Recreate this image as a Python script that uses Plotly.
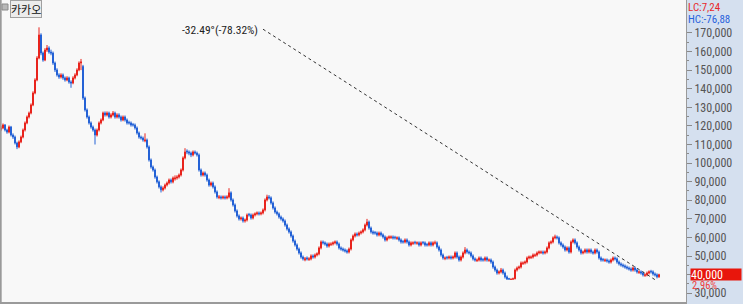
import plotly.graph_objects as go

# Prices in thousands of KRW (one candle per ~2 px of the reference)
OPEN = [
118.0, 118.9, 120.5, 117.8, 116.7, 119.4, 115.1, 114.0, 110.8, 108.7,
111.4, 114.0, 117.8, 121.6, 124.8, 126.9, 131.3, 137.7, 144.7, 156.5,
168.9, 159.2, 155.4, 160.8, 161.9, 159.7, 159.2, 153.8, 150.1, 147.4,
146.3, 147.4, 145.8, 144.7, 145.8, 143.6, 143.1, 145.8, 147.4, 150.1,
153.8, 152.0, 135.0, 128.6, 124.8, 121.6, 119.4, 117.8, 115.1, 117.8,
121.6, 123.2, 126.9, 125.9, 126.9, 124.8, 125.9, 126.9, 124.8, 125.9,
124.8, 123.2, 124.8, 123.2, 121.9, 121.6, 120.8, 120.5, 118.9, 116.2,
114.0, 113.5, 112.0, 112.4, 108.7, 101.7, 97.9, 96.3, 92.5, 89.9,
87.2, 85.6, 86.6, 88.2, 89.3, 90.9, 89.9, 91.5, 92.0, 92.5,
93.6, 96.3, 102.8, 106.5, 106.0, 105.4, 104.4, 106.0, 105.4, 104.4,
96.3, 93.6, 94.7, 93.6, 90.9, 88.2, 89.3, 87.2, 84.5, 81.5,
81.8, 81.3, 81.8, 81.3, 81.8, 84.0, 80.2, 77.5, 74.3, 71.6,
70.0, 70.5, 68.9, 69.4, 72.4, 72.1, 70.5, 72.1, 72.7, 73.2,
72.7, 73.2, 74.8, 80.2, 81.8, 81.3, 78.6, 75.9, 73.7, 72.7,
71.0, 70.0, 68.9, 66.7, 64.6, 63.0, 60.8, 58.1, 56.0, 53.8,
51.7, 49.5, 48.0, 49.0, 48.2, 48.5, 50.1, 49.5, 50.6, 51.2,
54.4, 57.6, 57.1, 56.5, 55.4, 56.2, 56.5, 57.1, 57.6, 56.5,
54.4, 53.8, 53.3, 52.8, 52.2, 53.8, 58.7, 60.8, 61.9, 61.4,
62.4, 63.0, 64.1, 66.7, 68.3, 65.1, 63.0, 62.7, 62.4, 61.4,
62.4, 61.4, 60.3, 58.7, 59.8, 60.0, 60.3, 60.1, 59.5, 59.8,
58.7, 57.9, 57.6, 58.7, 57.6, 56.0, 56.8, 57.4, 56.9, 57.1,
56.0, 57.3, 57.1, 56.3, 56.0, 57.1, 56.0, 57.0, 57.1, 54.9,
53.3, 50.6, 48.7, 49.3, 49.0, 49.5, 49.0, 49.5, 51.7, 49.5,
47.9, 49.5, 51.7, 53.3, 52.2, 51.7, 50.1, 48.5, 47.6, 47.9,
49.0, 48.2, 47.9, 49.0, 47.7, 47.9, 46.8, 44.1, 42.5, 40.9,
41.5, 42.5, 40.9, 38.8, 37.9, 37.4, 37.5, 37.8, 42.5, 43.6,
44.1, 46.0, 46.3, 46.8, 49.0, 49.2, 49.5, 50.3, 50.6, 51.7,
51.9, 52.2, 51.7, 52.2, 54.4, 57.1, 57.6, 59.8, 60.3, 59.8,
57.1, 56.0, 54.9, 53.3, 54.4, 52.2, 57.6, 58.7, 57.1, 54.9,
53.3, 51.7, 52.2, 53.3, 52.2, 53.3, 52.2, 51.7, 53.3, 52.2,
49.0, 48.2, 47.6, 47.9, 47.4, 46.8, 47.9, 49.0, 48.5, 46.8,
45.8, 45.2, 44.7, 44.1, 43.6, 43.1, 42.5, 43.6, 42.5, 41.2,
41.5, 40.9, 39.6, 39.9, 40.9, 41.8, 41.5, 40.4, 39.9, 38.85,
]

HIGH = [
120.0, 121.3, 121.0, 118.5, 120.2, 120.0, 116.0, 114.8, 111.5, 112.2,
114.8, 118.6, 122.4, 125.6, 127.7, 132.1, 138.6, 145.6, 157.5, 173.0,
169.8, 160.0, 161.8, 163.5, 162.8, 161.0, 160.0, 154.6, 151.0, 148.3,
148.3, 148.2, 146.6, 146.7, 146.5, 144.5, 146.7, 148.3, 151.0, 154.7,
156.0, 152.8, 135.8, 129.4, 125.6, 122.4, 120.2, 118.6, 118.6, 122.4,
124.0, 127.7, 127.8, 127.8, 127.7, 126.8, 128.0, 127.7, 126.8, 126.8,
125.6, 125.6, 125.6, 124.0, 122.8, 122.4, 121.6, 121.3, 119.7, 117.0,
114.8, 114.3, 116.0, 113.2, 109.5, 102.5, 98.7, 97.1, 93.3, 90.7,
88.0, 87.5, 89.0, 90.1, 91.7, 91.7, 92.8, 93.4, 93.5, 94.4,
97.1, 103.6, 108.0, 107.4, 106.8, 106.2, 106.8, 106.8, 106.2, 105.2,
97.1, 95.5, 95.5, 94.4, 91.7, 90.1, 90.1, 88.0, 85.3, 82.8,
82.6, 82.6, 82.6, 82.7, 86.5, 84.8, 81.0, 78.3, 75.1, 72.4,
71.3, 71.3, 70.2, 72.9, 73.2, 72.9, 72.9, 73.5, 74.0, 74.0,
74.0, 75.6, 81.0, 83.0, 82.8, 82.1, 79.4, 76.7, 74.5, 73.5,
71.8, 70.8, 69.7, 67.5, 65.4, 63.8, 61.6, 58.9, 56.8, 54.6,
52.5, 50.3, 49.5, 49.8, 49.4, 50.9, 50.9, 51.4, 52.0, 55.2,
58.4, 58.4, 57.9, 57.3, 57.3, 57.4, 57.9, 58.4, 58.4, 57.3,
55.2, 54.6, 54.1, 53.6, 54.6, 59.5, 61.6, 62.7, 62.7, 63.2,
63.8, 64.9, 67.5, 70.0, 69.1, 65.9, 63.8, 63.5, 63.2, 63.2,
63.2, 62.2, 61.1, 60.6, 61.1, 61.1, 61.1, 60.9, 60.6, 60.6,
59.5, 58.7, 59.5, 59.5, 58.4, 57.9, 57.9, 58.2, 57.9, 57.9,
57.9, 58.1, 57.9, 57.1, 57.9, 57.9, 57.9, 58.3, 57.9, 55.7,
54.1, 51.4, 49.8, 50.1, 50.3, 50.3, 50.3, 52.5, 52.5, 50.3,
50.3, 52.5, 54.8, 54.1, 53.0, 52.5, 50.9, 49.3, 48.7, 49.8,
49.8, 49.0, 49.8, 49.8, 48.7, 48.7, 47.6, 44.9, 43.3, 42.3,
43.6, 43.3, 41.7, 39.6, 38.3, 38.0, 38.4, 43.3, 44.4, 44.9,
47.1, 47.1, 47.6, 49.8, 50.3, 50.3, 51.4, 51.4, 52.5, 53.0,
53.0, 53.0, 53.0, 55.2, 57.9, 58.4, 60.6, 61.5, 61.1, 60.6,
57.9, 56.8, 55.7, 55.2, 55.2, 58.4, 59.5, 59.5, 57.9, 55.7,
54.1, 53.0, 54.1, 54.1, 54.1, 54.1, 53.0, 54.1, 54.1, 53.0,
49.8, 49.0, 48.7, 48.7, 48.2, 48.7, 49.8, 49.8, 49.3, 47.6,
46.6, 46.0, 45.5, 44.9, 44.4, 43.9, 44.4, 44.4, 43.3, 42.3,
42.3, 41.7, 40.7, 41.7, 42.3, 42.6, 42.3, 41.2, 40.7, 40.5,
]

LOW = [
117.2, 118.2, 117.0, 115.8, 116.0, 114.3, 113.0, 110.0, 107.5, 108.0,
110.7, 113.3, 117.0, 120.9, 124.0, 126.2, 130.6, 137.0, 144.0, 155.8,
158.0, 154.5, 154.8, 159.8, 158.8, 158.0, 152.8, 149.0, 146.5, 145.3,
145.5, 144.8, 143.8, 144.0, 142.7, 140.5, 142.4, 145.0, 146.7, 149.4,
150.0, 134.0, 127.7, 123.9, 120.7, 118.5, 116.9, 110.0, 114.3, 117.0,
120.8, 122.5, 125.0, 125.1, 123.9, 124.0, 125.1, 123.9, 124.0, 123.9,
122.3, 122.5, 122.3, 120.7, 120.7, 119.6, 119.6, 118.0, 115.3, 113.1,
112.6, 111.5, 111.2, 107.8, 100.8, 97.0, 95.4, 91.6, 89.0, 86.3,
84.2, 84.8, 85.8, 87.4, 88.5, 89.0, 89.1, 90.6, 91.1, 91.7,
92.8, 95.5, 102.0, 104.8, 104.2, 103.2, 103.6, 104.6, 103.5, 95.4,
92.7, 92.8, 92.7, 90.0, 87.3, 87.4, 86.3, 83.6, 80.9, 80.6,
80.4, 80.5, 80.4, 80.5, 81.0, 79.3, 76.6, 73.4, 70.7, 69.1,
69.1, 68.0, 68.0, 68.6, 71.2, 69.6, 69.7, 71.3, 71.9, 71.8,
71.9, 72.4, 74.0, 79.4, 80.4, 77.7, 75.0, 72.8, 71.8, 70.1,
69.1, 68.0, 65.8, 63.7, 62.1, 59.9, 57.2, 55.1, 52.9, 50.8,
48.6, 47.6, 47.2, 47.6, 47.4, 47.7, 48.6, 48.7, 49.8, 50.4,
53.6, 56.2, 55.6, 54.5, 54.6, 55.4, 55.7, 56.3, 55.6, 53.5,
52.9, 52.4, 51.9, 51.3, 51.4, 53.0, 57.9, 60.0, 60.5, 60.6,
61.6, 62.2, 63.3, 65.9, 64.2, 62.1, 61.5, 61.5, 60.5, 60.6,
60.5, 59.4, 57.8, 57.9, 59.0, 59.2, 58.9, 58.9, 58.7, 57.8,
56.7, 56.7, 56.8, 56.7, 55.1, 55.2, 56.0, 56.2, 56.1, 55.1,
55.2, 56.2, 55.1, 55.1, 55.2, 55.1, 55.2, 56.2, 54.0, 52.4,
49.7, 48.1, 47.8, 48.1, 48.2, 48.1, 48.2, 48.7, 48.6, 47.0,
47.1, 48.7, 50.9, 51.3, 50.8, 49.2, 47.6, 47.0, 46.8, 47.1,
47.0, 47.0, 47.1, 47.0, 46.9, 45.9, 43.2, 41.6, 40.0, 40.1,
40.7, 40.0, 37.9, 37.3, 37.4, 37.3, 37.4, 37.5, 41.7, 42.8,
43.3, 45.2, 45.5, 46.0, 48.2, 48.4, 48.7, 49.5, 49.8, 50.9,
51.1, 50.8, 50.9, 51.4, 53.6, 56.3, 56.8, 59.0, 58.9, 56.2,
55.1, 54.0, 52.4, 52.5, 51.3, 51.4, 56.8, 56.2, 54.0, 52.4,
50.8, 50.9, 51.4, 51.3, 51.4, 51.3, 50.8, 50.9, 51.3, 48.1,
47.0, 47.0, 46.8, 46.5, 45.9, 46.0, 47.1, 47.6, 45.9, 44.9,
44.3, 43.8, 43.2, 42.7, 42.2, 41.6, 41.7, 41.6, 40.6, 40.4,
40.0, 39.0, 38.8, 39.1, 40.1, 40.6, 39.5, 39.0, 38.0, 38.3,
]

CLOSE = [
118.9, 120.5, 117.8, 116.7, 119.4, 115.1, 114.0, 110.8, 108.7, 111.4,
114.0, 117.8, 121.6, 124.8, 126.9, 131.3, 137.7, 144.7, 156.5, 168.9,
159.2, 155.4, 160.8, 161.9, 159.7, 159.2, 153.8, 150.1, 147.4, 146.3,
147.4, 145.8, 144.7, 145.8, 143.6, 143.1, 145.8, 147.4, 150.1, 153.8,
154.4, 135.0, 128.6, 124.8, 121.6, 119.4, 117.8, 115.1, 117.8, 121.6,
123.2, 126.9, 125.9, 126.9, 124.8, 125.9, 126.9, 124.8, 125.9, 124.8,
123.2, 124.8, 123.2, 121.6, 121.6, 120.5, 120.5, 118.9, 116.2, 114.0,
113.5, 112.4, 112.4, 108.7, 101.7, 97.9, 96.3, 92.5, 89.9, 87.2,
85.6, 86.6, 88.2, 89.3, 90.9, 89.9, 92.0, 92.0, 92.5, 93.6,
96.3, 102.8, 106.0, 106.0, 105.4, 104.4, 106.0, 105.4, 104.4, 96.3,
93.6, 94.7, 93.6, 90.9, 88.2, 89.3, 87.2, 84.5, 81.8, 81.8,
81.3, 81.8, 81.3, 81.8, 84.0, 80.2, 77.5, 74.3, 71.6, 70.0,
70.5, 68.9, 69.4, 72.1, 72.1, 70.5, 72.1, 72.7, 73.2, 72.7,
73.2, 74.8, 80.2, 81.8, 81.3, 78.6, 75.9, 73.7, 72.7, 71.0,
70.0, 68.9, 66.7, 64.6, 63.0, 60.8, 58.1, 56.0, 53.8, 51.7,
49.5, 48.5, 48.5, 48.5, 48.5, 50.1, 49.5, 50.6, 51.2, 54.4,
57.6, 57.1, 56.5, 55.4, 56.5, 56.5, 57.1, 57.6, 56.5, 54.4,
53.8, 53.3, 52.8, 52.2, 53.8, 58.7, 60.8, 61.9, 61.4, 62.4,
63.0, 64.1, 66.7, 68.3, 65.1, 63.0, 62.4, 62.4, 61.4, 62.4,
61.4, 60.3, 58.7, 59.8, 60.3, 60.3, 59.8, 59.8, 59.8, 58.7,
57.6, 57.6, 58.7, 57.6, 56.0, 57.1, 57.1, 57.1, 57.1, 56.0,
57.1, 57.1, 56.0, 56.0, 57.1, 56.0, 57.1, 57.1, 54.9, 53.3,
50.6, 49.0, 49.0, 49.0, 49.5, 49.0, 49.5, 51.7, 49.5, 47.9,
49.5, 51.7, 53.3, 52.2, 51.7, 50.1, 48.5, 47.9, 47.9, 49.0,
47.9, 47.9, 49.0, 47.9, 47.9, 46.8, 44.1, 42.5, 40.9, 41.5,
42.5, 40.9, 38.8, 37.6, 37.6, 37.5, 37.8, 42.5, 43.6, 44.1,
46.3, 46.3, 46.8, 49.0, 49.5, 49.5, 50.6, 50.6, 51.7, 52.2,
52.2, 51.7, 52.2, 54.4, 57.1, 57.6, 59.8, 60.3, 59.8, 57.1,
56.0, 54.9, 53.3, 54.4, 52.2, 57.6, 58.7, 57.1, 54.9, 53.3,
51.7, 52.2, 53.3, 52.2, 53.3, 52.2, 51.7, 53.3, 52.2, 49.0,
47.9, 47.9, 47.9, 47.4, 46.8, 47.9, 49.0, 48.5, 46.8, 45.8,
45.2, 44.7, 44.1, 43.6, 43.1, 42.5, 43.6, 42.5, 41.5, 41.5,
40.9, 39.9, 39.9, 40.9, 41.5, 41.5, 40.4, 39.9, 38.85, 40.0,
]

TREND_IDX = [131, 327]
TREND_PRICE = [172000, 37300]
TREND_LABEL = "-32.49°(-78.32%)"
NAME = "카카오"
Y_TICKS = list(range(30000, 180000, 10000))

n = min(len(OPEN), len(HIGH), len(LOW), len(CLOSE))
idx = list(range(n))
o = [v * 1000 for v in OPEN[:n]]
h = [v * 1000 for v in HIGH[:n]]
l = [v * 1000 for v in LOW[:n]]
c = [v * 1000 for v in CLOSE[:n]]

last = c[-1]
prev = c[-2]
pct = (last / prev - 1) * 100
lc = (last / min(l) - 1) * 100
hc = (last / max(h) - 1) * 100

# the current-price box covers the tick label at the same level
tick_text = ["" if abs(v - last) < 5000 else f"{v:,}" for v in Y_TICKS]

NUMFONT = "Liberation Sans Narrow, Roboto Condensed, Liberation Sans, sans-serif"
RED = "#e8231c"
BLUE = "#2462d6"

fig = go.Figure()
fig.add_trace(go.Candlestick(
    x=idx, open=o, high=h, low=l, close=c,
    increasing=dict(line=dict(color=RED, width=1), fillcolor=RED),
    decreasing=dict(line=dict(color=BLUE, width=1), fillcolor=BLUE),
    whiskerwidth=0, showlegend=False, hoverinfo="skip",
))

W, H = 743, 304
ML, MR, MT, MB = 0, 57, 0, 2
pw = W - ML - MR
ph = H - MT - MB

fig.update_layout(
    width=W, height=H,
    margin=dict(l=ML, r=MR, t=MT, b=MB),
    paper_bgcolor="#f8f8f8", plot_bgcolor="#f8f8f8",
    showlegend=False,
    xaxis=dict(range=[-0.5, 342.5], rangeslider=dict(visible=False),
               showgrid=False, zeroline=False, showticklabels=False,
               ticks="", showline=True, linecolor="#9a9a9a", linewidth=2),
    yaxis=dict(side="right", range=[25300, 187700], tickmode="array",
               tickvals=Y_TICKS, ticktext=tick_text,
               showgrid=False, zeroline=False,
               ticks="outside", ticklen=5, tickcolor="#8a8a8a",
               showline=True, linecolor="#9a9a9a", linewidth=1,
               tickfont=dict(family=NUMFONT, size=12, color="#555555"),
               minor=dict(tickvals=[v + 5000 for v in Y_TICKS[:-1]] + [Y_TICKS[0] - 5000],
                          ticks="outside", ticklen=2, tickcolor="#8a8a8a")),
    shapes=[
        dict(type="rect", xref="paper", yref="paper", x0=1, x1=1 + MR / pw,
             y0=-MB / ph, y1=1, fillcolor="#d5e0ef", line=dict(width=0), layer="below"),
        dict(type="line", xref="paper", yref="paper", x0=0.001, x1=0.001, y0=0, y1=1,
             line=dict(color="#9a9a9a", width=2)),
        dict(type="line", xref="x", yref="y", x0=TREND_IDX[0], x1=TREND_IDX[1],
             y0=TREND_PRICE[0], y1=TREND_PRICE[1],
             line=dict(color="#333333", width=1, dash="3px,3px")),
        dict(type="rect", xref="paper", yref="paper", x0=2 / pw, x1=8 / pw,
             y0=1 - 10 / ph, y1=1 - 4 / ph, fillcolor="#b8b8b8",
             line=dict(color="#8a8a8a", width=1)),
    ],
)

ann = [
    dict(text=TREND_LABEL, xref="paper", yref="paper", x=260 / pw, y=1 - 30 / ph,
         xanchor="right", yanchor="middle", showarrow=False,
         font=dict(family=NUMFONT, size=11.5, color="#222222")),
    dict(text=NAME, xref="paper", yref="paper", x=10 / pw, y=1, xanchor="left",
         yanchor="top", showarrow=False, bgcolor="#ececec", bordercolor="#a0a0a0",
         borderwidth=1, borderpad=0,
         font=dict(family="Noto Sans CJK KR", size=11, color="#111111")),
    dict(text="LC:" + f"{lc:.2f}".replace(".", ","), xref="paper", yref="paper",
         x=687 / pw, y=1 - 1 / ph, xanchor="left", yanchor="top", showarrow=False,
         borderpad=0, height=11, font=dict(family=NUMFONT, size=11, color="#e8282a")),
    dict(text="HC:" + f"{hc:.2f}".replace(".", ","), xref="paper", yref="paper",
         x=687 / pw, y=1 - 12.5 / ph, xanchor="left", yanchor="top", showarrow=False,
         borderpad=0, height=11, font=dict(family=NUMFONT, size=11, color="#2a62dc")),
    dict(text=f"{last:,.0f}", xref="paper", yref="y", x=690 / pw, y=last,
         xanchor="left", yanchor="middle", showarrow=False, bgcolor="#e8160c",
         borderpad=0, align="left", width=50, height=11,
         font=dict(family=NUMFONT, size=12, color="#ffffff")),
    dict(text=f"{pct:.2f}%", xref="paper", yref="paper", x=691 / pw, y=1 - 284.5 / ph,
         xanchor="left", yanchor="middle", showarrow=False, borderpad=0, height=8,
         font=dict(family=NUMFONT, size=10.5, color="#f03c3c")),
]
fig.update_layout(annotations=ann)

fig.write_html("out.html")
